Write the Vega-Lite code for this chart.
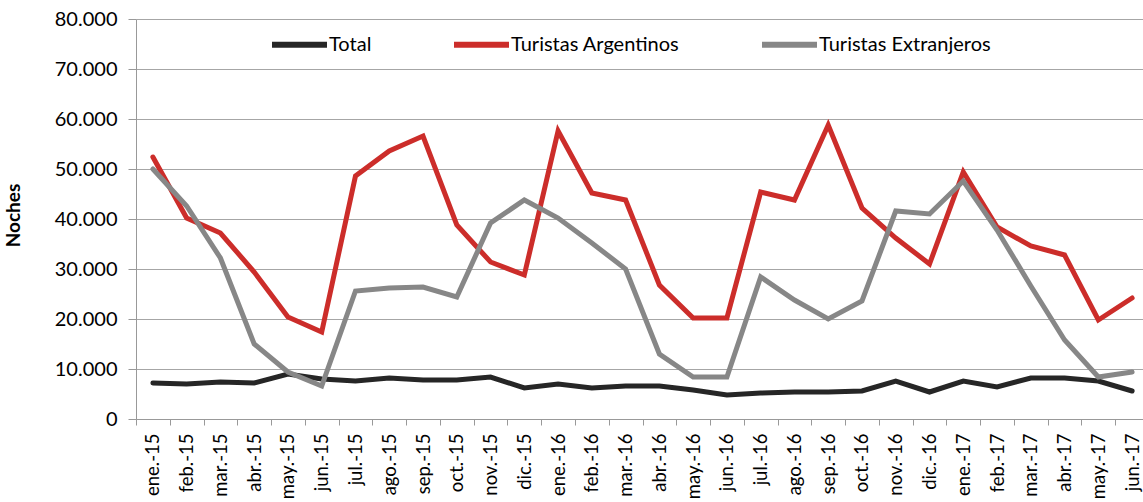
{
  "$schema": "https://vega.github.io/schema/vega-lite/v6.json",
  "autosize": {"type": "none"},
  "width": 1007,
  "height": 400,
  "padding": {"left": 136, "top": 19, "right": 0, "bottom": 83},
  "background": "white",
  "config": {
    "view": {"stroke": null},
    "font": "Lato",
    "axis": {"labelFont": "Lato", "titleFont": "Lato", "labelColor": "#000000", "titleColor": "#000000"}
  },
  "data": {
    "values": [
      {"mes": "ene.-15", "Total": 7200, "Turistas Argentinos": 52400, "Turistas Extranjeros": 50000},
      {"mes": "feb.-15", "Total": 7000, "Turistas Argentinos": 40200, "Turistas Extranjeros": 42600},
      {"mes": "mar.-15", "Total": 7400, "Turistas Argentinos": 37200, "Turistas Extranjeros": 32200},
      {"mes": "abr.-15", "Total": 7200, "Turistas Argentinos": 29400, "Turistas Extranjeros": 15000},
      {"mes": "may.-15", "Total": 9000, "Turistas Argentinos": 20400, "Turistas Extranjeros": 9400},
      {"mes": "jun.-15", "Total": 8000, "Turistas Argentinos": 17400, "Turistas Extranjeros": 6600},
      {"mes": "jul.-15", "Total": 7600, "Turistas Argentinos": 48600, "Turistas Extranjeros": 25600},
      {"mes": "ago.-15", "Total": 8200, "Turistas Argentinos": 53600, "Turistas Extranjeros": 26200},
      {"mes": "sep.-15", "Total": 7800, "Turistas Argentinos": 56600, "Turistas Extranjeros": 26400},
      {"mes": "oct.-15", "Total": 7800, "Turistas Argentinos": 38800, "Turistas Extranjeros": 24400},
      {"mes": "nov.-15", "Total": 8400, "Turistas Argentinos": 31400, "Turistas Extranjeros": 39200},
      {"mes": "dic.-15", "Total": 6200, "Turistas Argentinos": 28800, "Turistas Extranjeros": 43800},
      {"mes": "ene.-16", "Total": 7000, "Turistas Argentinos": 57600, "Turistas Extranjeros": 40200},
      {"mes": "feb.-16", "Total": 6200, "Turistas Argentinos": 45200, "Turistas Extranjeros": 35200},
      {"mes": "mar.-16", "Total": 6600, "Turistas Argentinos": 43800, "Turistas Extranjeros": 30000},
      {"mes": "abr.-16", "Total": 6600, "Turistas Argentinos": 26800, "Turistas Extranjeros": 13000},
      {"mes": "may.-16", "Total": 5800, "Turistas Argentinos": 20200, "Turistas Extranjeros": 8400},
      {"mes": "jun.-16", "Total": 4800, "Turistas Argentinos": 20200, "Turistas Extranjeros": 8400},
      {"mes": "jul.-16", "Total": 5200, "Turistas Argentinos": 45400, "Turistas Extranjeros": 28400},
      {"mes": "ago.-16", "Total": 5400, "Turistas Argentinos": 43800, "Turistas Extranjeros": 23800},
      {"mes": "sep.-16", "Total": 5400, "Turistas Argentinos": 58800, "Turistas Extranjeros": 20000},
      {"mes": "oct.-16", "Total": 5600, "Turistas Argentinos": 42200, "Turistas Extranjeros": 23600},
      {"mes": "nov.-16", "Total": 7600, "Turistas Argentinos": 36200, "Turistas Extranjeros": 41600},
      {"mes": "dic.-16", "Total": 5400, "Turistas Argentinos": 31000, "Turistas Extranjeros": 41000},
      {"mes": "ene.-17", "Total": 7600, "Turistas Argentinos": 49400, "Turistas Extranjeros": 47600},
      {"mes": "feb.-17", "Total": 6400, "Turistas Argentinos": 38400, "Turistas Extranjeros": 37800},
      {"mes": "mar.-17", "Total": 8200, "Turistas Argentinos": 34600, "Turistas Extranjeros": 26600},
      {"mes": "abr.-17", "Total": 8200, "Turistas Argentinos": 32800, "Turistas Extranjeros": 15800},
      {"mes": "may.-17", "Total": 7600, "Turistas Argentinos": 19800, "Turistas Extranjeros": 8400},
      {"mes": "jun.-17", "Total": 5600, "Turistas Argentinos": 24200, "Turistas Extranjeros": 9400}
    ]
  },
  "transform": [
    {"fold": ["Total", "Turistas Argentinos", "Turistas Extranjeros"], "as": ["serie", "valor"]}
  ],
  "mark": {"type": "line", "strokeWidth": 5, "strokeJoin": "miter", "strokeCap": "round"},
  "encoding": {
    "x": {
      "field": "mes",
      "type": "ordinal",
      "sort": null,
      "scale": {"type": "band", "paddingInner": 0, "paddingOuter": 0, "range": [0, 1013]},
      "axis": {
        "title": null,
        "labelAngle": 270,
        "labelFontSize": 18.5,
        "labelPadding": 8,
        "tickBand": "extent",
        "tickSize": 6,
        "tickColor": "#999999",
        "domainColor": "#999999",
        "grid": false
      }
    },
    "y": {
      "field": "valor",
      "type": "quantitative",
      "scale": {"domain": [0, 80000], "nice": false},
      "axis": {
        "title": "Noches",
        "titleFontSize": 19,
        "titleFontWeight": "bold",
        "titleAngle": 270,
        "titleAlign": "center",
        "titleBaseline": "bottom",
        "titleX": -113,
        "titleY": 196,
        "values": [0, 10000, 20000, 30000, 40000, 50000, 60000, 70000, 80000],
        "labelExpr": "replace(format(datum.value, ','), ',', '.')",
        "labelFontSize": 20,
        "labelPadding": 11,
        "tickSize": 8,
        "tickColor": "#999999",
        "domainColor": "#999999",
        "grid": true,
        "gridColor": "#a6a6a6",
        "gridWidth": 1
      }
    },
    "color": {
      "field": "serie",
      "type": "nominal",
      "sort": ["Total", "Turistas Argentinos", "Turistas Extranjeros"],
      "scale": {
        "domain": ["Total", "Turistas Argentinos", "Turistas Extranjeros"],
        "range": ["#262626", "#cc2d2a", "#878787"]
      },
      "legend": {
        "title": null,
        "orient": "none",
        "direction": "horizontal",
        "legendX": 133,
        "legendY": -5,
        "columns": 3,
        "columnPadding": 70,
        "symbolType": "stroke",
        "symbolSize": 3025,
        "symbolStrokeWidth": 6,
        "labelFont": "Lato",
        "labelFontSize": 20,
        "labelColor": "#000000",
        "labelOffset": -1,
        "labelLimit": 400
      }
    }
  }
}
